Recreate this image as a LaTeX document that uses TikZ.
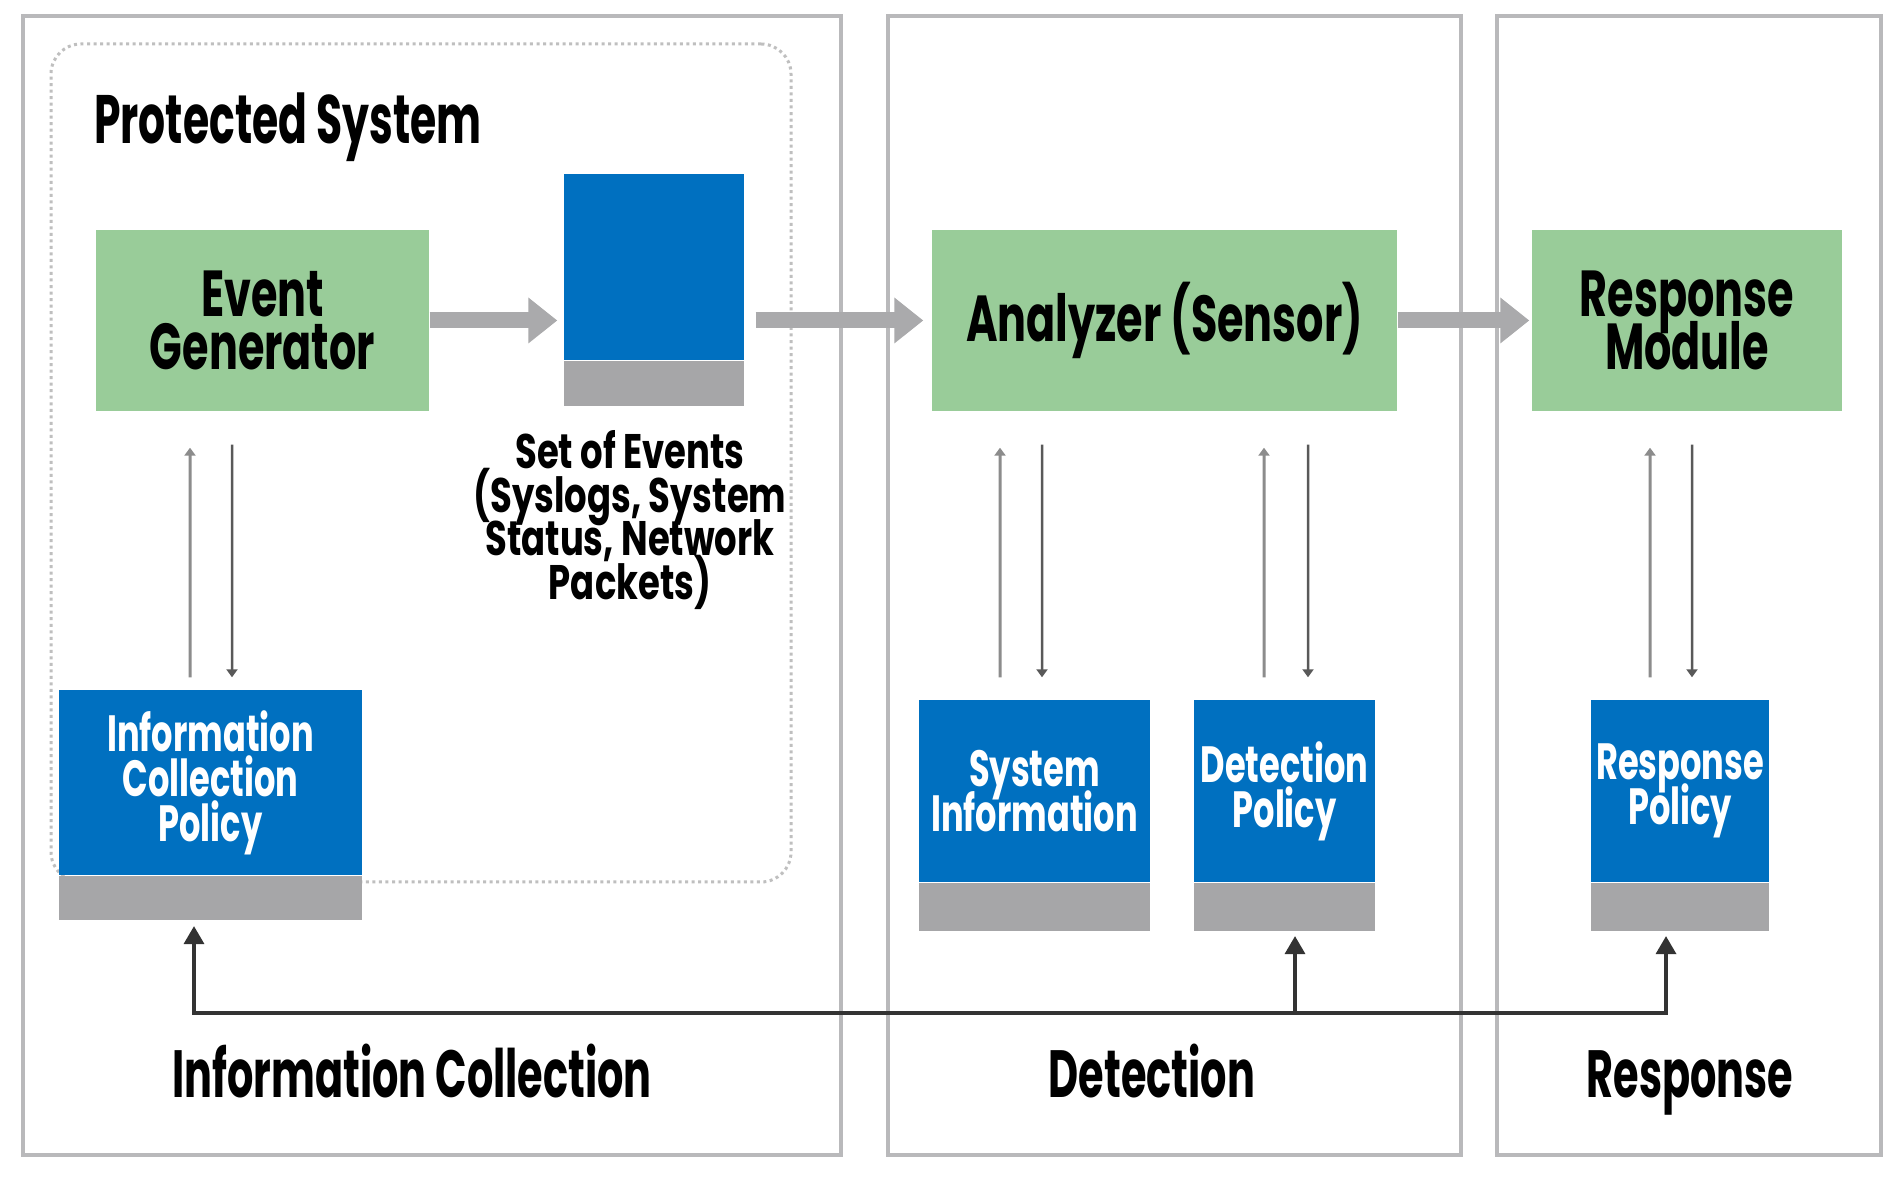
\documentclass[tikz,border=0pt]{standalone}
\usepackage{fontspec}
\usepackage{xcolor}
\usepackage{tikz}
\usetikzlibrary{shapes, arrows.meta, positioning}
\newfontfamily\diafont{Poppins}[FakeStretch=0.62]
\newfontfamily\boxfont{Poppins}[FakeStretch=0.66]
\newfontfamily\evfont{Poppins}[FakeStretch=0.73]
\newcommand{\tightlines}{\lineskiplimit=-\maxdimen}
\definecolor{boxgreen}{RGB}{153,204,153}
\definecolor{boxblue}{RGB}{0,112,192}
\definecolor{bargray}{RGB}{166,166,168}
\definecolor{framegray}{RGB}{185,185,187}
\definecolor{arrowgray}{RGB}{170,170,172}
\tikzstyle{panel} = [rectangle, draw=framegray, line width=0.4mm, minimum height=113.9mm, inner sep=0pt]
\tikzstyle{protbox} = [rectangle, rounded corners=3mm, draw=gray!50, densely dotted, line width=0.3mm, inner sep=0pt]
\tikzstyle{greenbox} = [rectangle, fill=boxgreen, inner sep=0pt, minimum height=18.1mm, text centered, align=center,
    font=\boxfont\bfseries\fontsize{18.5}{15.2}\selectfont\tightlines]
\tikzstyle{bluebox} = [rectangle, fill=boxblue, inner sep=0pt, text=white, text centered, align=center,
    font=\boxfont\bfseries\fontsize{14.5}{12.8}\selectfont\tightlines]
\tikzstyle{graybar} = [rectangle, fill=bargray, inner sep=0pt]
\tikzstyle{labeltext} = [inner sep=0pt, font=\diafont\bfseries\fontsize{19.5}{19.5}\selectfont]
\tikzstyle{eventtext} = [inner sep=0pt, align=center, font=\evfont\bfseries\fontsize{13.8}{12.4}\selectfont\tightlines]
\tikzstyle{fatarrow} = [draw=arrowgray, line width=1.6mm, -{Triangle[width=4.4mm,length=2.9mm]}]
\tikzstyle{upline} = [draw=black!45, line width=0.3mm, -{Triangle[width=1.1mm,length=0.8mm]}]
\tikzstyle{downline} = [draw=black!65, line width=0.25mm, -{Triangle[width=1.1mm,length=0.8mm]}]
\tikzstyle{bus} = [draw=black!80, line width=0.34mm, -{Triangle[width=2mm,length=1.8mm]}]

\begin{document}
\begin{tikzpicture}[x=0.1mm, y=-0.1mm]
\fill[white] (0,0) rectangle (1898,1178);
\useasboundingbox (0,0) rectangle (1898,1178);

%==============================================
%Paneles
%==============================================
\node (pone) [panel, minimum width=81.8mm] at (432,585.5) {};
\node (ptwo) [panel, minimum width=57.3mm] at (1174.5,585.5) {};
\node (pthree) [panel, minimum width=38.4mm] at (1689,585.5) {};

%Sistema protegido==============================================
\node (prot) [protbox, minimum width=74mm, minimum height=83.8mm] at (421,463) {};
\node (protlabel) [labeltext, anchor=north west] at ([xshift=4.4mm, yshift=-5mm]prot.north west) {Protected System};

%Nodos verdes==============================================
\node (evgen) [greenbox, minimum width=33.3mm] at (262.5,320.5) {Event\\Generator};
\node (analyzer) [greenbox, minimum width=46.5mm] at (1164.5,320.5) {Analyzer (Sensor)};
\node (respmod) [greenbox, minimum width=31mm] at (1687,320.5) {Response\\Module};

%Eventos==============================================
\node (events) [bluebox, minimum width=18mm, minimum height=18.6mm] at (654,267) {};
\node (eventsbar) [graybar, below=0pt of events, minimum width=18mm, minimum height=4.5mm] {};
\node (evlabel) [eventtext, below=2.3mm of eventsbar, xshift=-2.4mm] {Set of Events\\(Syslogs, System\\Status, Network\\Packets)};

%Politicas==============================================
\node (icp) [bluebox, minimum width=30.3mm, minimum height=18.5mm] at (210.5,782.5) {Information\\Collection\\Policy};
\node (icpbar) [graybar, below=0pt of icp, minimum width=30.3mm, minimum height=4.4mm] {};

\node (sysinfo) [bluebox, minimum width=23.1mm, minimum height=18.2mm] at (1034.5,791) {System\\Information};
\node (sysbar) [graybar, below=0pt of sysinfo, minimum width=23.1mm, minimum height=4.8mm] {};

\node (detpol) [bluebox, minimum width=18.1mm, minimum height=18.2mm] at (1284.5,791) {Detection\\Policy};
\node (detbar) [graybar, below=0pt of detpol, minimum width=18.1mm, minimum height=4.8mm] {};

\node (resppol) [bluebox, minimum width=17.8mm, minimum height=18.2mm] at (1680,791) {Response\\Policy};
\node (respbar) [graybar, below=0pt of resppol, minimum width=17.8mm, minimum height=4.8mm] {};

%Etiquetas==============================================
\node (infolabel) [labeltext, anchor=base, font=\diafont\bfseries\fontsize{19}{19}\selectfont] at (412,1098) {Information Collection};
\node (detlabel) [labeltext, anchor=base, font=\diafont\bfseries\fontsize{19}{19}\selectfont] at (1152,1098) {Detection};
\node (resplabel) [labeltext, anchor=base, font=\diafont\bfseries\fontsize{19}{19}\selectfont] at (1690,1098) {Response};

%==============================================
\draw [fatarrow, shorten >=0.6mm] (evgen.east) -- (evgen.east -| events.west);
\draw [fatarrow, shorten <=1.1mm, shorten >=0.8mm] (analyzer.west -| events.east) -- (analyzer.west);
\draw [fatarrow, shorten >=0.2mm] (analyzer.east) -- (respmod.west);

\draw [upline, shorten <=1.2mm, shorten >=3.6mm] ([xshift=-2.05mm]icp.north) -- ([xshift=-7.25mm]evgen.south);
\draw [downline, shorten <=3.3mm, shorten >=1.2mm] ([xshift=-3.05mm]evgen.south) -- ([xshift=2.15mm]icp.north);
\draw [upline, shorten <=2.2mm, shorten >=3.6mm] ([xshift=-3.45mm]sysinfo.north) -- ([xshift=-16.45mm]analyzer.south);
\draw [downline, shorten <=3.3mm, shorten >=2.2mm] ([xshift=-12.25mm]analyzer.south) -- ([xshift=0.75mm]sysinfo.north);
\draw [upline, shorten <=2.2mm, shorten >=3.6mm] ([xshift=-2.05mm]detpol.north) -- ([xshift=9.95mm]analyzer.south);
\draw [downline, shorten <=3.3mm, shorten >=2.2mm] ([xshift=14.35mm]analyzer.south) -- ([xshift=2.35mm]detpol.north);
\draw [upline, shorten <=2.2mm, shorten >=3.6mm] ([xshift=-3mm]resppol.north) -- ([xshift=-3.7mm]respmod.south);
\draw [downline, shorten <=3.3mm, shorten >=2.2mm] ([xshift=0.5mm]respmod.south) -- ([xshift=1.2mm]resppol.north);

\draw [bus, {Triangle[width=2mm,length=1.8mm]}-{Triangle[width=2mm,length=1.8mm]}, shorten <=0.5mm, shorten >=0.4mm]
    ([xshift=-1.65mm]icpbar.south) -- ++(0,92) -| ([xshift=-1.4mm]respbar.south);
\draw [bus, shorten >=0.4mm] ([xshift=1.05mm]detbar.south) ++(0,81) -- ([xshift=1.05mm]detbar.south);
\end{tikzpicture}
\end{document}
